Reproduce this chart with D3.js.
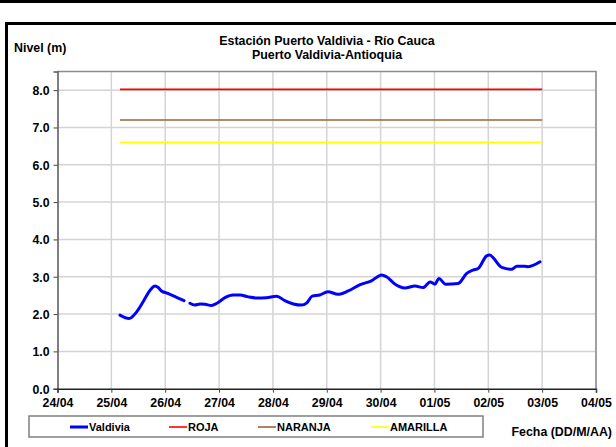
<!DOCTYPE html>
<html>
<head>
<meta charset="utf-8">
<script src="https://cdn.jsdelivr.net/npm/d3@7"></script>
<style>
  body { margin: 0; background: #fff; }
  svg { display: block; font-family: "Liberation Sans", Arial, sans-serif; font-weight: bold; }
</style>
</head>
<body>
<div id="chart"></div>
<script>
// days counted from 24/04 00:00
var dayLabels = ["24/04","25/04","26/04","27/04","28/04","29/04","30/04","01/05","02/05","03/05","04/05"];
var levelTicks = [0,1,2,3,4,5,6,7,8];

var valdiviaDays = [1.16,1.33,1.47,1.59,1.72,1.81,1.87,1.93,2.06,2.21,2.35,2.40,
                    2.46,2.55,2.65,2.74,2.86,2.96,3.11,3.26,3.39,3.54,3.70,3.88,4.07,4.22,4.38,4.53,4.63,4.73,4.87,5.02,5.21,5.40,5.62,5.83,6.02,6.11,6.27,6.45,6.64,6.79,6.92,7.01,7.08,7.21,7.44,7.60,7.72,7.81,7.97,8.02,8.25,8.43,8.53,8.68,8.74,8.96];
var valdiviaLevels = [1.97,1.88,2.06,2.33,2.64,2.75,2.71,2.62,2.55,2.45,2.36,null,
                    2.29,2.24,2.27,2.26,2.23,2.29,2.44,2.51,2.51,2.46,2.43,2.44,2.48,2.36,2.27,2.24,2.30,2.48,2.51,2.60,2.53,2.62,2.79,2.89,3.05,3.00,2.80,2.70,2.75,2.71,2.86,2.80,2.95,2.80,2.82,3.09,3.18,3.22,3.56,3.58,3.25,3.20,3.28,3.28,3.27,3.40];

var alertNames = ["ROJA","NARANJA","AMARILLA"];
var alertLevels = [8.02,7.2,6.6];
var alertSpan = [1.16, 9.0];

var alertColors = {"ROJA":"#ff0000","NARANJA":"#996633","AMARILLA":"#ffff00"};

var W = 616, H = 447;
var plot = {left: 57.5, right: 596, top: 71.5, bottom: 388.7};
var fontStack = "'Liberation Sans', Arial, sans-serif";

var svg = d3.select("#chart").append("svg").attr("width", W).attr("height", H);
svg.append("rect").attr("width", W).attr("height", H).attr("fill", "#fff");

// outer frames
svg.append("rect").attr("x", 0).attr("y", 0).attr("width", W).attr("height", 3).attr("fill", "#000");
svg.append("path").attr("d", "M6.5," + H + "V23.5H" + W)
   .attr("fill", "none").attr("stroke", "#000").attr("stroke-width", 3);

var x = d3.scaleLinear().domain([0, 10]).range([plot.left, plot.right]);
var y = d3.scaleLinear().domain([0, 8.5]).range([plot.bottom, plot.top]);

// grid
var g = svg.append("g");
g.selectAll("line.vg").data(d3.range(1, 11)).enter().append("line")
  .attr("x1", function(d){ return x(d); }).attr("x2", function(d){ return x(d); })
  .attr("y1", plot.top).attr("y2", plot.bottom)
  .attr("stroke", "#d4d4d4").attr("stroke-width", 1.5);
g.selectAll("line.hg").data(levelTicks.slice(1)).enter().append("line")
  .attr("x1", plot.left).attr("x2", plot.right)
  .attr("y1", function(d){ return y(d); }).attr("y2", function(d){ return y(d); })
  .attr("stroke", "#d4d4d4").attr("stroke-width", 1.5);

// plot border (top/right)
svg.append("path").attr("d", "M" + plot.left + "," + plot.top + "H" + plot.right + "V" + plot.bottom)
   .attr("fill", "none").attr("stroke", "#8c8c8c").attr("stroke-width", 1.5);

// axes
var yAxis = svg.append("g").attr("transform", "translate(" + plot.left + ",0)")
  .call(d3.axisLeft(y).tickValues(levelTicks).tickFormat(d3.format(".1f")).tickSize(4).tickPadding(4));
var xAxis = svg.append("g").attr("transform", "translate(0," + plot.bottom + ")")
  .call(d3.axisBottom(x).tickValues(d3.range(0, 11)).tickFormat(function(d){ return dayLabels[d]; }).tickSize(4).tickPadding(5));
yAxis.select(".domain").attr("stroke", "#555").attr("stroke-width", 1.5);
xAxis.select(".domain").attr("stroke", "#222").attr("stroke-width", 1.5);
[yAxis, xAxis].forEach(function(a){
  a.selectAll(".tick line").attr("stroke", "#444");
  a.selectAll("text").attr("fill", "#000").style("font-size", "12.3px").style("font-weight", "bold")
   .style("font-family", fontStack);
});
yAxis.selectAll(".tick text").attr("dy", "0.35em");
xAxis.selectAll(".tick text").attr("dy", "0.75em");

// alert lines
svg.selectAll("line.alert").data(alertNames).enter().append("line")
  .attr("x1", x(alertSpan[0])).attr("x2", x(alertSpan[1]))
  .attr("y1", function(d, i){ return y(alertLevels[i]); })
  .attr("y2", function(d, i){ return y(alertLevels[i]); })
  .attr("stroke", function(d){ return alertColors[d]; }).attr("stroke-width", 1.6);

// Valdivia series
var pts = valdiviaDays.map(function(d, i){ return {d: d, v: valdiviaLevels[i]}; });
var line = d3.line().defined(function(p){ return p.v !== null; })
  .x(function(p){ return x(p.d); }).y(function(p){ return y(p.v); })
  .curve(d3.curveMonotoneX);
svg.append("path").datum(pts).attr("d", line)
  .attr("fill", "none").attr("stroke", "#0000ff").attr("stroke-width", 3)
  .attr("stroke-linejoin", "round").attr("stroke-linecap", "round");

// titles
svg.append("text").attr("x", 327).attr("y", 45).attr("text-anchor", "middle")
  .style("font-size", "12.4px").text("Estación Puerto Valdivia - Río Cauca");
svg.append("text").attr("x", 327).attr("y", 59).attr("text-anchor", "middle")
  .style("font-size", "12.4px").text("Puerto Valdivia-Antioquia");
svg.append("text").attr("x", 14).attr("y", 52).style("font-size", "12.4px").text("Nivel (m)");
svg.append("text").attr("x", 612).attr("y", 436).attr("text-anchor", "end").style("font-size", "12.4px").text("Fecha (DD/M/AA)");

// legend
svg.append("rect").attr("x", 29).attr("y", 416).attr("width", 454).attr("height", 21)
  .attr("fill", "#fff").attr("stroke", "#808080").attr("stroke-width", 1.5);
var legendNames = ["Valdivia"].concat(alertNames);
var legendX = [70, 169, 258, 371];
var legendColors = {"Valdivia":"#0000ff"};
alertNames.forEach(function(n){ legendColors[n] = alertColors[n]; });
var li = svg.selectAll("g.leg").data(legendNames).enter().append("g")
  .attr("transform", function(d, i){ return "translate(" + legendX[i] + ",427)"; });
li.append("line").attr("x1", 0).attr("x2", 18).attr("y1", 0).attr("y2", 0)
  .attr("stroke", function(d){ return legendColors[d]; })
  .attr("stroke-width", function(d){ return d === "Valdivia" ? 3 : 1.6; });
li.append("text").attr("x", 19).attr("y", 4).style("font-size", "11px").text(function(d){ return d; });
</script>
</body>
</html>
